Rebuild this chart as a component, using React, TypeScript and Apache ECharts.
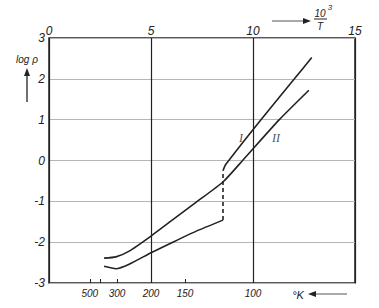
import React, { useEffect, useRef } from "react";
import * as echarts from "echarts";

// Top axis: 10^3/T ; left axis: log rho
const invTMin = 0;
const invTMax = 15;
const logRhoMin = -3;
const logRhoMax = 3;

// Bottom temperature scale (°K), positioned at 1000/T
const tempLabels = [500, 300, 200, 150, 100];
const tempTicks = [500, 400, 300, 150];

// Curve II (continuous)
const curveII: [number, number][] = [
  [2.7, -2.39], [3.28, -2.36], [3.93, -2.22], [5.0, -1.85], [6.07, -1.45],
  [7.22, -1.02], [8.54, -0.52], [9.49, 0.0], [11.29, 1.0], [12.74, 1.72],
];
// Curve I, lower branch (high temperature side)
const curveILow: [number, number][] = [
  [2.7, -2.59], [3.28, -2.65], [3.93, -2.54], [5.0, -2.26], [6.07, -2.0],
  [7.22, -1.73], [8.53, -1.46],
];
// Curve I, jump (dashed)
const curveIJump: [number, number][] = [
  [8.53, -1.46], [8.53, -0.25],
];
// Curve I, upper branch
const curveIHigh: [number, number][] = [
  [8.53, -0.25], [8.66, -0.1], [10.39, 1.0], [12.03, 2.0], [12.88, 2.52],
];
// Curve labels
const curveLabels: { name: string; at: [number, number] }[] = [
  { name: "I", at: [9.41, 0.55] },
  { name: "II", at: [11.13, 0.55] },
];

const INK = "#222";
const FONT = "Liberation Sans";

export default function App() {
  const ref = useRef<HTMLDivElement>(null);
  useEffect(() => {
    if (!ref.current) return;
    const chart = echarts.init(ref.current, undefined, { renderer: "svg" });
    const lineStyle = { color: INK, width: 1.6 };
    const txt = (text: string, x: number, y: number, size = 11, extra: any = {}) => ({
      type: "text",
      x,
      y,
      style: {
        text,
        fill: INK,
        font: `italic ${size}px "${FONT}"`,
        textAlign: "center",
        textVerticalAlign: "middle",
        ...extra,
      },
    });
    chart.setOption({
      animation: false,
      backgroundColor: "#fff",
      grid: {
        left: 49,
        right: 24,
        top: 38,
        bottom: 25,
        show: true,
        borderColor: INK,
        borderWidth: 1.5,
      },
      xAxis: [
        {
          type: "value",
          position: "top",
          min: invTMin,
          max: invTMax,
          interval: 5,
          axisLine: { show: false },
          axisTick: { show: false },
          axisLabel: {
            color: INK,
            fontStyle: "italic",
            fontFamily: FONT,
            fontSize: 12,
            margin: 1,
          },
          splitLine: { show: true, lineStyle: { color: INK, width: 1.2 } },
        },
        {
          type: "value",
          position: "bottom",
          min: invTMin,
          max: invTMax,
          axisLine: { show: false },
          axisTick: {
            show: true,
            inside: true,
            length: 4,
            lineStyle: { color: INK, width: 1 },
            customValues: tempTicks.map((t) => 1000 / t),
          },
          axisLabel: {
            show: true,
            color: INK,
            fontStyle: "italic",
            fontFamily: FONT,
            fontSize: 10,
            margin: 5,
            customValues: tempLabels.map((t) => 1000 / t),
            formatter: (v: number) => String(Math.round(1000 / v)),
          },
          splitLine: { show: false },
        },
      ],
      yAxis: {
        type: "value",
        min: logRhoMin,
        max: logRhoMax,
        interval: 1,
        axisLine: { show: false },
        axisTick: { show: false },
        axisLabel: {
          color: INK,
          fontStyle: "italic",
          fontFamily: FONT,
          fontSize: 12,
          margin: 4,
        },
        splitLine: { show: true, lineStyle: { color: "#b5b5b5", width: 1 } },
      },
      series: [
        {
          type: "line",
          name: "II",
          data: curveII,
          smooth: 0.2,
          showSymbol: false,
          lineStyle,
        },
        {
          type: "line",
          name: "I-low",
          data: curveILow,
          smooth: 0.2,
          showSymbol: false,
          lineStyle,
        },
        {
          type: "line",
          name: "I-jump",
          data: curveIJump,
          showSymbol: false,
          lineStyle: { ...lineStyle, type: [4, 3] },
        },
        {
          type: "line",
          name: "I-high",
          data: curveIHigh,
          smooth: 0.2,
          showSymbol: false,
          lineStyle,
        },
        {
          type: "scatter",
          name: "labels",
          symbolSize: 0,
          data: curveLabels.map((c) => ({ value: c.at, name: c.name })),
          label: {
            show: true,
            position: "inside",
            formatter: (p: any) => p.name,
            color: INK,
            fontStyle: "italic",
            fontFamily: "Liberation Serif",
            fontSize: 12,
          },
        },
      ],
      graphic: [
        // log rho with upward arrow
        txt("log ρ", 27, 59, 10),
        { type: "line", shape: { x1: 27, y1: 102, x2: 27, y2: 74 }, style: { stroke: INK, lineWidth: 1.3 } },
        { type: "polygon", shape: { points: [[24, 76], [30, 76], [27, 68]] }, style: { fill: INK } },
        // 10^3 / T with right arrow
        { type: "line", shape: { x1: 272, y1: 21, x2: 305, y2: 21 }, style: { stroke: "#555", lineWidth: 1 } },
        { type: "polygon", shape: { points: [[303, 18], [303, 24], [311, 21]] }, style: { fill: INK } },
        txt("10", 320, 13, 10),
        txt("3", 330, 7, 8),
        { type: "line", shape: { x1: 314, y1: 19, x2: 327, y2: 19 }, style: { stroke: INK, lineWidth: 1 } },
        txt("T", 320, 26, 10),
        // °K with left arrow
        txt("°K", 298, 295, 11),
        { type: "line", shape: { x1: 314, y1: 294, x2: 347, y2: 294 }, style: { stroke: "#555", lineWidth: 1 } },
        { type: "polygon", shape: { points: [[316, 291], [316, 297], [308, 294]] }, style: { fill: INK } },
      ],
    });
    return () => chart.dispose();
  }, []);
  return (
    <div
      ref={ref}
      style={{ position: "fixed", left: 0, top: 0, width: 379, height: 308 }}
    />
  );
}
